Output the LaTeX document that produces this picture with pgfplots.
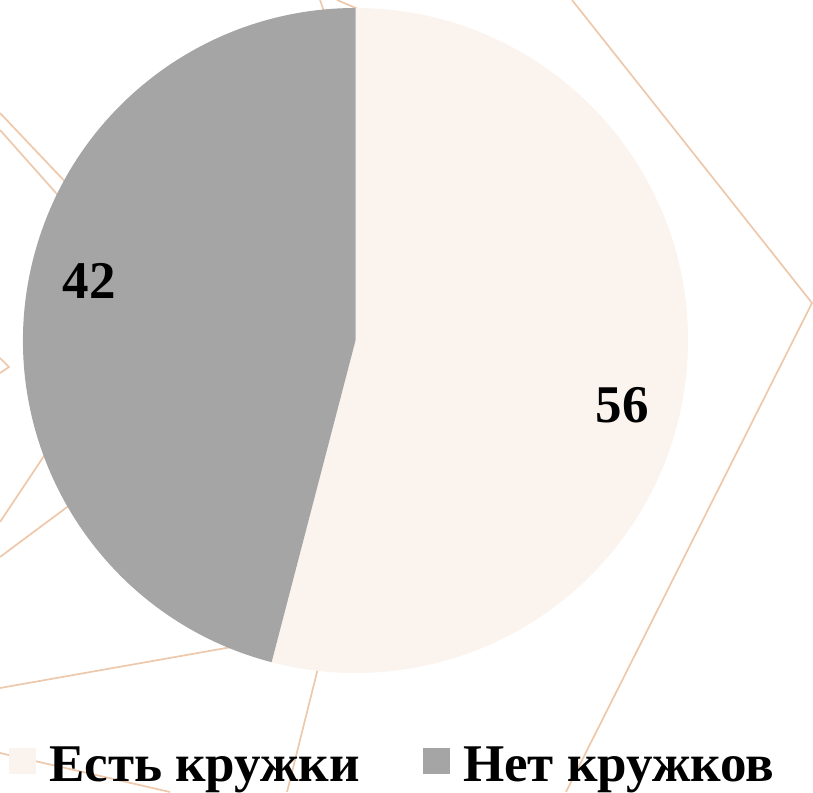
\documentclass[border=0pt]{standalone}
\usepackage{pgfplots}
\pgfplotsset{compat=1.18}
\usepackage{pgfplotstable}
\usepackage{fontspec}
\setmainfont{Liberation Serif}
\definecolor{pieA}{RGB}{251,243,238}
\definecolor{pieB}{RGB}{165,165,165}
\definecolor{deco}{RGB}{238,200,170}

% share = slice size as drawn (percent of circle), label = printed value
\pgfplotstableread{
share label lx ly
54.06 56 622 387
45.94 42 89 511
}\piedata

\begin{document}
\begin{tikzpicture}
\pgfplotstablegetelem{0}{share}\of\piedata \let\shareA\pgfplotsretval
\pgfplotstablegetelem{1}{share}\of\piedata \let\shareB\pgfplotsretval
\pgfplotstablegetelem{0}{label}\of\piedata \let\labA\pgfplotsretval
\pgfplotstablegetelem{1}{label}\of\piedata \let\labB\pgfplotsretval
\pgfplotstablegetelem{0}{lx}\of\piedata \let\lxA\pgfplotsretval
\pgfplotstablegetelem{0}{ly}\of\piedata \let\lyA\pgfplotsretval
\pgfplotstablegetelem{1}{lx}\of\piedata \let\lxB\pgfplotsretval
\pgfplotstablegetelem{1}{ly}\of\piedata \let\lyB\pgfplotsretval
\pgfmathsetmacro\angA{90-3.6*\shareA}
\pgfmathsetmacro\angB{\angA-3.6*\shareB}
\begin{axis}[
  width=813pt, height=792pt, scale only axis,
  xmin=0, xmax=813, ymin=0, ymax=792,
  hide axis, clip=false,
]
% decorative background lines
\addplot[deco, line width=1.7pt, no markers] coordinates {(320,792) (326,775)};
\addplot[deco, line width=1.7pt, no markers] coordinates {(337,792) (365,780)};
\addplot[deco, line width=1.7pt, no markers] coordinates {(572,792) (812,489) (566,0)};
\addplot[deco, line width=1.7pt, no markers] coordinates {(0,679) (90,584)};
\addplot[deco, line width=1.7pt, no markers] coordinates {(0,662) (80,572)};
\addplot[deco, line width=1.7pt, no markers] coordinates {(0,434) (9,425) (0,419)};
\addplot[deco, line width=1.7pt, no markers] coordinates {(0,270) (60,360)};
\addplot[deco, line width=1.7pt, no markers] coordinates {(0,235) (90,302)};
\addplot[deco, line width=1.7pt, no markers] coordinates {(0,104) (260,150)};
\addplot[deco, line width=1.7pt, no markers] coordinates {(322,140) (287,0)};
\addplot[deco, line width=1.7pt, no markers] coordinates {(0,39) (170,0)};
% pie slices
\fill[pieA] (axis cs:355.5,451.5) -- ++(90:332.5pt) arc[start angle=90, end angle=\angA, radius=332.5pt] -- cycle;
\fill[pieB] (axis cs:355.5,451.5) -- ++(\angA:332.5pt) arc[start angle=\angA, end angle=\angB, radius=332.5pt] -- cycle;
% data labels
\node[inner sep=0] at (axis cs:\lxA,\lyA) {\fontsize{53}{60}\selectfont\bfseries \labA};
\node[inner sep=0] at (axis cs:\lxB,\lyB) {\fontsize{53}{60}\selectfont\bfseries \labB};
% legend
\fill[pieA] (axis cs:9,18) rectangle (axis cs:36,44);
\node[anchor=base west, inner sep=0] at (axis cs:49,11) {\fontsize{53}{60}\selectfont\bfseries Есть кружки};
\fill[pieB] (axis cs:423,18) rectangle (axis cs:450,44);
\node[anchor=base west, inner sep=0] at (axis cs:463,11) {\fontsize{53}{60}\selectfont\bfseries Нет кружков};
\coordinate (bl) at (axis cs:0,0);
\coordinate (tr) at (axis cs:813,792);
\end{axis}
\pgfresetboundingbox
\useasboundingbox (bl) rectangle (tr);
\end{tikzpicture}
\end{document}
